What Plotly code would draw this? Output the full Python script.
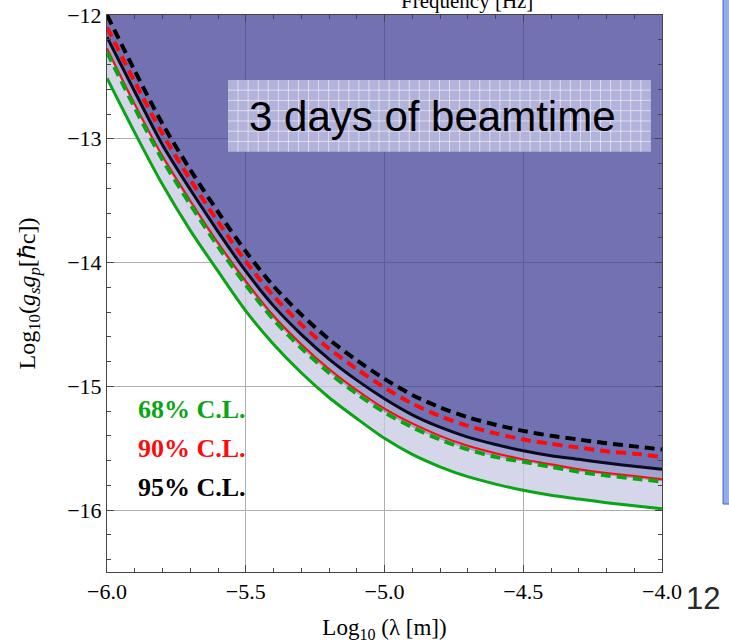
import plotly.graph_objects as go

# ---- data ----
log_lambda = [-6.0, -5.9, -5.8, -5.7, -5.6, -5.5, -5.4, -5.3, -5.2, -5.1, -5.0,
              -4.9, -4.8, -4.7, -4.6, -4.5, -4.4, -4.3, -4.2, -4.1, -4.0]
cl95_dashed = [-12.00, -12.45, -12.88, -13.25, -13.59, -13.91, -14.19, -14.42, -14.62, -14.79, -14.94,
               -15.07, -15.17, -15.25, -15.31, -15.36, -15.40, -15.43, -15.46, -15.485, -15.51]
cl90_dashed = [-12.10, -12.54, -12.96, -13.33, -13.67, -13.99, -14.27, -14.50, -14.695, -14.86, -15.01,
               -15.14, -15.24, -15.32, -15.38, -15.43, -15.465, -15.495, -15.525, -15.545, -15.57]
cl95_solid = [-12.18, -12.62, -13.05, -13.41, -13.75, -14.07, -14.35, -14.58, -14.78, -14.95, -15.10,
              -15.23, -15.33, -15.41, -15.47, -15.52, -15.56, -15.59, -15.62, -15.645, -15.67]
cl90_solid = [-12.27, -12.72, -13.14, -13.50, -13.84, -14.15, -14.43, -14.66, -14.86, -15.03, -15.18,
              -15.30, -15.40, -15.48, -15.54, -15.59, -15.63, -15.67, -15.70, -15.725, -15.75]
cl68_dashed = [-12.30, -12.75, -13.17, -13.53, -13.87, -14.18, -14.46, -14.69, -14.89, -15.06, -15.21,
               -15.33, -15.43, -15.51, -15.57, -15.61, -15.65, -15.69, -15.72, -15.745, -15.77]
cl68_solid = [-12.51, -12.95, -13.37, -13.74, -14.07, -14.39, -14.66, -14.89, -15.09, -15.26, -15.42,
              -15.55, -15.65, -15.73, -15.79, -15.84, -15.88, -15.91, -15.94, -15.965, -15.99]

x_ticks = [-6.0, -5.5, -5.0, -4.5, -4.0]
x_ticklabels = ["\u22126.0", "\u22125.5", "\u22125.0", "\u22124.5", "\u22124.0"]
y_ticks = [-12, -13, -14, -15, -16]
y_ticklabels = ["\u221212", "\u221213", "\u221214", "\u221215", "\u221216"]
legend_labels = ["68% C.L.", "90% C.L.", "95% C.L."]
Y_TOP = -12.0
Y_BOTTOM = -16.5

GREEN = "rgb(10,165,20)"
RED = "rgb(255,10,10)"
BLACK = "rgb(0,0,0)"
SERIF = "Liberation Serif, Times New Roman, serif"
SANS = "Liberation Sans, Arial, sans-serif"
SPL = dict(shape="spline", smoothing=0.8)

fig = go.Figure()

# fills
fig.add_trace(go.Scatter(x=log_lambda, y=[Y_TOP] * len(log_lambda), mode="lines",
                         line=dict(width=0), hoverinfo="skip", showlegend=False))
fig.add_trace(go.Scatter(x=log_lambda, y=cl95_solid, mode="lines", line=dict(width=0, **SPL),
                         fill="tonexty", fillcolor="rgba(60,60,150,0.72)",
                         hoverinfo="skip", showlegend=False))
fig.add_trace(go.Scatter(x=log_lambda, y=cl68_dashed, mode="lines", line=dict(width=0, **SPL),
                         fill="tonexty", fillcolor="rgba(90,90,170,0.55)",
                         hoverinfo="skip", showlegend=False))
fig.add_trace(go.Scatter(x=log_lambda, y=cl68_solid, mode="lines", line=dict(width=0, **SPL),
                         fill="tonexty", fillcolor="rgba(200,200,228,0.75)",
                         hoverinfo="skip", showlegend=False))

# curves
fig.add_trace(go.Scatter(x=log_lambda, y=cl68_solid, mode="lines",
                         line=dict(color=GREEN, width=3, **SPL), showlegend=False))
fig.add_trace(go.Scatter(x=log_lambda, y=cl90_solid, mode="lines",
                         line=dict(color=RED, width=2, **SPL), showlegend=False))
fig.add_trace(go.Scatter(x=log_lambda, y=cl68_dashed, mode="lines",
                         line=dict(color=GREEN, width=4, dash="10px,6px", **SPL), showlegend=False))
fig.add_trace(go.Scatter(x=log_lambda, y=cl95_solid, mode="lines",
                         line=dict(color="rgb(10,10,30)", width=3, **SPL), showlegend=False))
fig.add_trace(go.Scatter(x=log_lambda, y=cl90_dashed, mode="lines",
                         line=dict(color=RED, width=4, dash="10px,6px", **SPL), showlegend=False))
fig.add_trace(go.Scatter(x=log_lambda, y=cl95_dashed, mode="lines",
                         line=dict(color=BLACK, width=4, dash="10px,6px", **SPL), showlegend=False))

axis_common = dict(
    showline=True, linecolor="rgb(70,70,70)", linewidth=1, mirror="ticks",
    ticks="inside", ticklen=7, tickcolor="rgb(70,70,70)", tickwidth=1,
    showgrid=True, gridcolor="rgb(175,175,175)", gridwidth=1,
    zeroline=False, tickfont=dict(family=SERIF, size=22, color="black"),
    automargin=False, ticklabeloverflow="allow",
)

fig.update_xaxes(range=[-6.0, -4.0], tickvals=x_ticks, ticktext=x_ticklabels,
                 minor=dict(dtick=0.1, ticks="inside", ticklen=4, tickcolor="rgb(70,70,70)",
                            showgrid=False),
                 title=dict(text="Log<sub>10</sub> (\u03bb [m])",
                            font=dict(family=SERIF, size=23, color="black"), standoff=17),
                 **axis_common)
fig.update_yaxes(range=[Y_BOTTOM, Y_TOP], tickvals=y_ticks, ticktext=y_ticklabels,
                 minor=dict(dtick=0.2, ticks="inside", ticklen=4, tickcolor="rgb(70,70,70)",
                            showgrid=False),
                 title=dict(text="Log<sub>10</sub>(<i>g<sub>s</sub>g<sub>p</sub></i>[\u210fc])",
                            font=dict(family=SERIF, size=24, color="black"), standoff=24),
                 **axis_common)

shapes = []
# "3 days of beamtime" patterned box
bx0, bx1, by0, by1 = 0.218, 0.980, 0.7545, 0.8835
shapes.append(dict(type="rect", xref="paper", yref="paper", x0=bx0, x1=bx1, y0=by0, y1=by1,
                   fillcolor="rgb(178,178,218)", line=dict(width=0), layer="above"))
nvx = 42
for i in range(1, nvx):
    xv = bx0 + (bx1 - bx0) * i / nvx
    shapes.append(dict(type="line", xref="paper", yref="paper", x0=xv, x1=xv, y0=by0, y1=by1,
                       line=dict(color="rgba(255,255,255,0.55)", width=1), layer="above"))
nhy = 7
for j in range(1, nhy):
    yv = by0 + (by1 - by0) * j / nhy
    shapes.append(dict(type="line", xref="paper", yref="paper", x0=bx0, x1=bx1, y0=yv, y1=yv,
                       line=dict(color="rgba(255,255,255,0.55)", width=1), layer="above"))
# right-edge slide decoration strip
shapes.append(dict(type="rect", xref="paper", yref="paper", x0=1.110, x1=1.135, y0=0.122, y1=1.03,
                   fillcolor="rgb(150,172,228)", line=dict(color="rgb(60,100,210)", width=1)))

annotations = [
    dict(text="3 days of beamtime", xref="paper", yref="paper", x=0.587, y=0.818,
         xanchor="center", yanchor="middle",
         showarrow=False, font=dict(family=SANS, size=42, color="black")),
    dict(text="Frequency [Hz]", xref="paper", yref="paper", x=0.648, y=1.025,
         xanchor="center", yanchor="middle", showarrow=False,
         font=dict(family=SERIF, size=21, color="black")),
    dict(text="12", xref="paper", yref="paper", x=1.074, y=-0.0467,
         xanchor="center", yanchor="middle",
         showarrow=False, font=dict(family=SANS, size=31, color="rgb(40,40,40)")),
]
leg_colors = [GREEN, RED, BLACK]
leg_y = [0.291, 0.221, 0.151]
for lab, col, yy in zip(legend_labels, leg_colors, leg_y):
    annotations.append(dict(text="<b>" + lab + "</b>", xref="paper", yref="paper", x=0.052, y=yy,
                            xanchor="left", yanchor="middle", showarrow=False,
                            font=dict(family=SERIF, size=26, color=col)))

fig.update_layout(
    width=729, height=643,
    margin=dict(l=107, r=67, t=15, b=71, autoexpand=False),
    paper_bgcolor="white", plot_bgcolor="white",
    shapes=shapes, annotations=annotations, showlegend=False,
    hovermode=False,
)

fig.write_html("out.html", config={"displayModeBar": False},
               post_script="document.body.style.margin='0px';")
